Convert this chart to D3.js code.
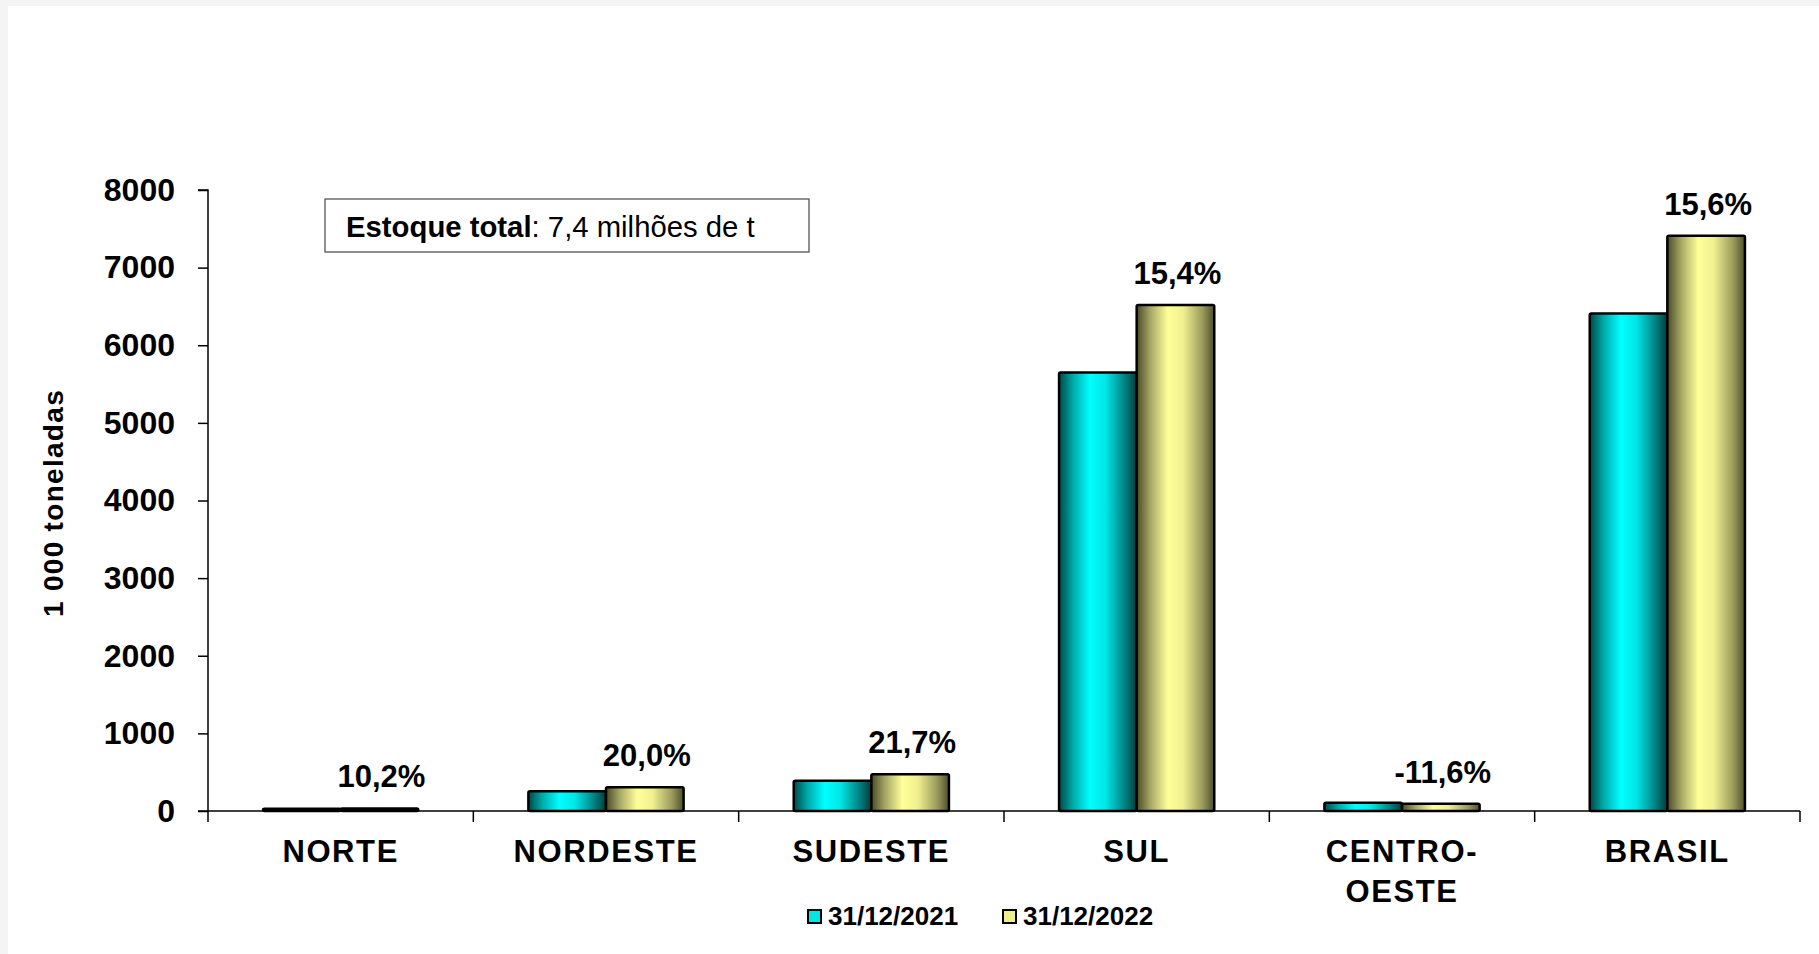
<!DOCTYPE html>
<html>
<head>
<meta charset="utf-8">
<script src="https://cdn.jsdelivr.net/npm/d3@7"></script>
<style>
  html, body { margin: 0; padding: 0; background: #f4f4f4; }
  svg { display: block; font-family: Arial, "Liberation Sans", sans-serif; }
</style>
</head>
<body>
<svg id="chart" width="1819" height="954"></svg>
<script>
const categories = ["NORTE", "NORDESTE", "SUDESTE", "SUL", "CENTRO-OESTE", "BRASIL"];
const categoryLines = [["NORTE"], ["NORDESTE"], ["SUDESTE"], ["SUL"], ["CENTRO-", "OESTE"], ["BRASIL"]];
const seriesNames = ["31/12/2021", "31/12/2022"];
const values2021 = [30, 255, 390, 5650, 105, 6410];
const values2022 = [33, 306, 475, 6520, 93, 7410];
const pctLabels = ["10,2%", "20,0%", "21,7%", "15,4%", "-11,6%", "15,6%"];
const yTicks = [0, 1000, 2000, 3000, 4000, 5000, 6000, 7000, 8000];

const svg = d3.select("#chart");
svg.append("rect").attr("x", 8).attr("y", 6).attr("width", 1819 - 8).attr("height", 954 - 6).attr("fill", "#ffffff");

const defs = svg.append("defs");
function grad(id, stops) {
  const g = defs.append("linearGradient").attr("id", id).attr("x1", "0%").attr("x2", "100%").attr("y1", "0%").attr("y2", "0%");
  stops.forEach(s => g.append("stop").attr("offset", s[0]).attr("stop-color", s[1]));
}
grad("gCyan", [["0%", "#004848"], ["18%", "#00aaaa"], ["40%", "#00ffff"], ["60%", "#00e6e6"], ["85%", "#008080"], ["100%", "#003c3c"]]);
grad("gYellow", [["0%", "#4a4a28"], ["18%", "#a8a866"], ["40%", "#ffff99"], ["60%", "#f0f090"], ["85%", "#9a9a5c"], ["100%", "#4e4e2c"]]);
const fills = ["url(#gCyan)", "url(#gYellow)"];
const swatchFills = ["#00e5e5", "#eeee8c"];

const plotLeft = 208, plotRight = 1800, plotTop = 190, plotBottom = 811;
const y = d3.scaleLinear().domain([0, 8000]).range([plotBottom, plotTop]);
const x0 = d3.scaleBand().domain(categories).range([plotLeft, plotRight]).padding(0);
const groupW = x0.bandwidth() * 0.585;
const x1 = d3.scaleBand().domain(seriesNames).range([0, groupW]).padding(0);

// Y axis
const yAxis = d3.axisLeft(y).tickValues(yTicks).tickSize(10).tickPadding(23).tickFormat(d3.format("d"));
const gy = svg.append("g").attr("transform", `translate(${plotLeft},0)`).call(yAxis);
gy.select(".domain").attr("stroke", "#000").attr("stroke-width", 1.5).attr("d", `M-10,${plotTop}H0V${plotBottom}H-10`);
gy.selectAll(".tick line").attr("stroke", "#000").attr("stroke-width", 1.5);
gy.selectAll(".tick text").attr("font-size", 32).attr("font-weight", "bold").attr("fill", "#000")
  .attr("font-family", "Arial, 'Liberation Sans', sans-serif");

// X axis
const xAxis = d3.axisBottom(x0).tickSize(0).tickFormat("");
const gx = svg.append("g").attr("transform", `translate(0,${plotBottom})`).call(xAxis);
gx.select(".domain").attr("stroke", "#000").attr("stroke-width", 1.5).attr("d", `M${plotLeft},0H${plotRight}`);
const boundaries = categories.map(c => x0(c)).concat([plotRight]);
gx.selectAll(".bound").data(boundaries).enter().append("line")
  .attr("x1", d => d).attr("x2", d => d).attr("y1", 0).attr("y2", 11)
  .attr("stroke", "#000").attr("stroke-width", 1.5);

// Category labels
categories.forEach((c, i) => {
  const cx = x0(c) + x0.bandwidth() / 2;
  const t = svg.append("text").attr("x", cx).attr("y", 862).attr("text-anchor", "middle")
    .attr("font-size", 31).attr("font-weight", "bold").attr("letter-spacing", 1.6).attr("fill", "#000");
  categoryLines[i].forEach((ln, k) => {
    t.append("tspan").attr("x", cx).attr("dy", k === 0 ? 0 : 40).text(ln);
  });
});

// Bars
const series = [values2021, values2022];
categories.forEach((c, i) => {
  const gx0 = x0(c) + (x0.bandwidth() - groupW) / 2;
  series.forEach((vals, s) => {
    const v = vals[i];
    svg.append("rect")
      .attr("x", gx0 + x1(seriesNames[s]))
      .attr("y", y(v))
      .attr("width", x1.bandwidth())
      .attr("height", plotBottom - y(v))
      .attr("fill", fills[s])
      .attr("stroke", "#000").attr("stroke-width", 2.5).attr("rx", 1.5);
  });
  svg.append("text")
    .attr("x", gx0 + x1(seriesNames[1]) + x1.bandwidth() / 2 + 2)
    .attr("y", y(values2022[i]) - 21)
    .attr("text-anchor", "middle").attr("font-size", 31).attr("font-weight", "bold").attr("fill", "#000")
    .text(pctLabels[i]);
});

// Y axis title
svg.append("text").attr("transform", "translate(63,503) rotate(-90)")
  .attr("text-anchor", "middle").attr("font-size", 28).attr("font-weight", "bold").attr("letter-spacing", 1.3).attr("fill", "#000")
  .text("1 000 toneladas");

// Annotation box
svg.append("rect").attr("x", 325).attr("y", 199).attr("width", 484).attr("height", 53)
  .attr("fill", "#fff").attr("stroke", "#555").attr("stroke-width", 1.3);
const ann = svg.append("text").attr("x", 346).attr("y", 237).attr("font-size", 29.3).attr("fill", "#000");
ann.append("tspan").attr("font-weight", "bold").text("Estoque total");
ann.append("tspan").text(": 7,4 milhões de t");

// Legend
const legendX = [807, 1002];
seriesNames.forEach((name, s) => {
  svg.append("rect").attr("x", legendX[s] + 1).attr("y", 910).attr("width", 13).attr("height", 13)
    .attr("fill", swatchFills[s]).attr("stroke", "#000").attr("stroke-width", 2);
  svg.append("text").attr("x", legendX[s] + 21).attr("y", 925)
    .attr("font-size", 26).attr("font-weight", "bold").attr("fill", "#000").text(name);
});
</script>
</body>
</html>
